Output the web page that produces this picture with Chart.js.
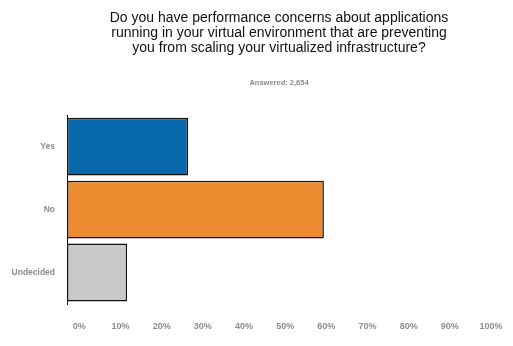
<!DOCTYPE html>
<html>
<head>
<meta charset="utf-8">
<script src="https://cdn.jsdelivr.net/npm/chart.js@4/dist/chart.umd.min.js"></script>
<style>
  html, body { margin:0; padding:0; background:#fff; }
  canvas { display:block; }
</style>
</head>
<body>
<canvas id="c" width="513" height="346"></canvas>
<script>
// survey answers, share of respondents (%)
const categories = ['Yes', 'No', 'Undecided'];
const shares = [26.4, 59.4, 11.6];
const barColors = ['#0868ac', '#ed8b30', '#c8c9cb'];
const tickValues = [0, 10, 20, 30, 40, 50, 60, 70, 80, 90, 100];

const titleLines = [
  'Do you have performance concerns about applications',
  'running in your virtual environment that are preventing',
  'you from scaling your virtualized infrastructure?'
];
const answered = 'Answered: 2,654';

const grey = '#8c8c8c';

new Chart(document.getElementById('c'), {
  type: 'bar',
  data: {
    labels: categories,
    datasets: [{
      data: shares,
      base: -3,
      backgroundColor: barColors,
      borderColor: '#111',
      borderWidth: 1.5,
      borderSkipped: false,
      barPercentage: 0.92,
      categoryPercentage: 1
    }]
  },
  options: {
    indexAxis: 'y',
    responsive: false,
    animation: false,
    devicePixelRatio: 1,
    layout: { padding: { left: 0, right: 22, top: 0, bottom: 0 } },
    plugins: {
      legend: { display: false },
      tooltip: { enabled: false },
      title: {
        display: true,
        text: titleLines,
        fullSize: false,
        color: '#111',
        font: { family: 'Liberation Sans', size: 14, weight: 'normal', lineHeight: 1.1 },
        padding: { top: 10, bottom: 22 }
      },
      subtitle: {
        display: true,
        text: answered,
        fullSize: false,
        color: grey,
        font: { family: 'Liberation Sans', size: 7.5, weight: 'bold', lineHeight: 1.2 },
        padding: { top: 0, bottom: 28 }
      }
    },
    scales: {
      x: {
        min: -3,
        max: 100,
        afterBuildTicks: s => { s.ticks = tickValues.map(v => ({ value: v })); },
        grid: { display: false, drawTicks: false },
        border: { display: false },
        ticks: {
          color: grey,
          font: { family: 'Liberation Sans', size: 9, weight: 'bold' },
          padding: 17,
          maxRotation: 0,
          callback: v => v + '%'
        },
        afterFit: s => { s.height = 42; s.paddingLeft = 0; s.paddingRight = 0; }
      },
      y: {
        grid: { display: false, drawTicks: false },
        border: { display: true, color: '#111', width: 1 },
        ticks: {
          color: grey,
          font: { family: 'Liberation Sans', size: 8.5, weight: 'bold' },
          padding: 12
        },
        afterFit: s => { s.width = 67; }
      }
    }
  }
});
</script>
</body>
</html>
